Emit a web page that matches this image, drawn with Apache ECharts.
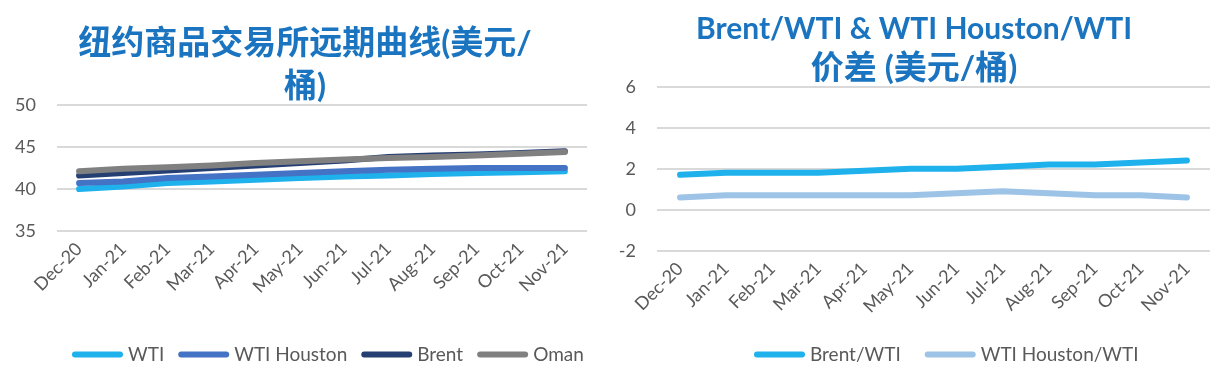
<!DOCTYPE html>
<html>
<head>
<meta charset="utf-8">
<script src="https://cdn.jsdelivr.net/npm/echarts@6/dist/echarts.min.js"></script>
<style>
html,body{margin:0;padding:0;background:#fff;}
#c{width:1216px;height:382px;}
</style>
</head>
<body>
<div id="c"></div>
<script>
// ---- data ----
const categories = ['Dec-20','Jan-21','Feb-21','Mar-21','Apr-21','May-21','Jun-21','Jul-21','Aug-21','Sep-21','Oct-21','Nov-21'];

const wti        = [40.0, 40.3, 40.7, 40.9, 41.1, 41.3, 41.5, 41.6, 41.8, 41.9, 42.0, 42.1];
const wtiHouston = [40.7, 40.9, 41.3, 41.5, 41.7, 41.9, 42.1, 42.3, 42.4, 42.5, 42.5, 42.5];
const brent      = [41.6, 41.9, 42.2, 42.5, 42.8, 43.1, 43.4, 43.8, 44.0, 44.1, 44.3, 44.5];
const oman       = [42.1, 42.4, 42.6, 42.8, 43.1, 43.3, 43.5, 43.7, 43.8, 44.0, 44.2, 44.4];

const brentWti      = [1.7, 1.8, 1.8, 1.8, 1.9, 2.0, 2.0, 2.1, 2.2, 2.2, 2.3, 2.4];
const houstonWti    = [0.6, 0.7, 0.7, 0.7, 0.7, 0.7, 0.8, 0.9, 0.8, 0.7, 0.7, 0.6];

const leftTicks  = {min: 35, max: 50, interval: 5};
const rightTicks = {min: -2, max: 6, interval: 2};

const leftTitle  = '纽约商品交易所远期曲线(美元/\n桶)';
const rightTitleLine1 = 'Brent/WTI & WTI Houston/WTI';
const rightTitleLine2 = '价差 (美元/桶)';

// ---- styles ----
const FONT = 'Lato, "Noto Sans CJK SC", sans-serif';
const TXT = '#595959';
const GRIDC = '#d9d9d9';
const TITLEC = '#1a74bf';
const colors = {
  wti: '#1eb1ec', wtiHouston: '#4472c4', brent: '#263f73', oman: '#808080',
  brentWti: '#1eb1ec', houstonWti: '#9dc3e6'
};
const capsule = 'path://M3,0 L48,0 A3,3 0 0 1 48,6 L3,6 A3,3 0 0 1 3,0 Z';

function xAxis(gi) {
  return {
    type: 'category', gridIndex: gi, data: categories, boundaryGap: true,
    axisLine: {show: false}, axisTick: {show: false},
    axisLabel: {rotate: 45, color: TXT, fontFamily: FONT, fontSize: 18, margin: 15, interval: 0}
  };
}
function yAxis(gi, t) {
  return {
    type: 'value', gridIndex: gi, min: t.min, max: t.max, interval: t.interval,
    axisLine: {show: false}, axisTick: {show: false},
    axisLabel: {color: TXT, fontFamily: FONT, fontSize: 18, margin: 21},
    splitLine: {lineStyle: {color: GRIDC, width: 2}}
  };
}
function line(name, data, color, xi) {
  return {
    name, type: 'line', data, xAxisIndex: xi, yAxisIndex: xi,
    symbol: 'none', smooth: false, color,
    lineStyle: {width: 6, color, cap: 'round', join: 'round'}
  };
}

const chart = echarts.init(document.getElementById('c'), null, {renderer: 'canvas'});
chart.setOption({
  animation: false,
  backgroundColor: '#fff',
  title: [
    {text: leftTitle, left: 305, top: 22, textAlign: 'center', padding: 0,
     textStyle: {color: TITLEC, fontFamily: FONT, fontSize: 33, fontWeight: 'bold', lineHeight: 43}},
    {text: '{a|' + rightTitleLine1 + '}\n{b|' + rightTitleLine2 + '}', left: 914, top: 10, textAlign: 'center', padding: 0,
     textStyle: {color: TITLEC, fontFamily: FONT, fontWeight: 'bold',
       rich: {
         a: {color: TITLEC, fontFamily: FONT, fontSize: 30, fontWeight: 'bold', lineHeight: 39},
         b: {color: TITLEC, fontFamily: FONT, fontSize: 33, fontWeight: 'bold', lineHeight: 39}
       }}}
  ],
  grid: [
    {left: 57, top: 105, width: 530, height: 126, containLabel: false},
    {left: 657, top: 86.7, width: 553, height: 164, containLabel: false}
  ],
  xAxis: [xAxis(0), xAxis(1)],
  yAxis: [yAxis(0, leftTicks), yAxis(1, rightTicks)],
  legend: [
    {left: 67, top: 340, itemWidth: 51, itemHeight: 6, itemGap: 14, icon: capsule,
     textStyle: {color: TXT, fontFamily: FONT, fontSize: 19},
     data: ['WTI', 'WTI Houston', 'Brent', 'Oman']},
    {left: 749, top: 340, itemWidth: 51, itemHeight: 6, itemGap: 24, icon: capsule,
     textStyle: {color: TXT, fontFamily: FONT, fontSize: 19},
     data: ['Brent/WTI', 'WTI Houston/WTI']}
  ],
  series: [
    line('WTI', wti, colors.wti, 0),
    line('WTI Houston', wtiHouston, colors.wtiHouston, 0),
    line('Brent', brent, colors.brent, 0),
    line('Oman', oman, colors.oman, 0),
    line('Brent/WTI', brentWti, colors.brentWti, 1),
    line('WTI Houston/WTI', houstonWti, colors.houstonWti, 1)
  ]
});
</script>
</body>
</html>
